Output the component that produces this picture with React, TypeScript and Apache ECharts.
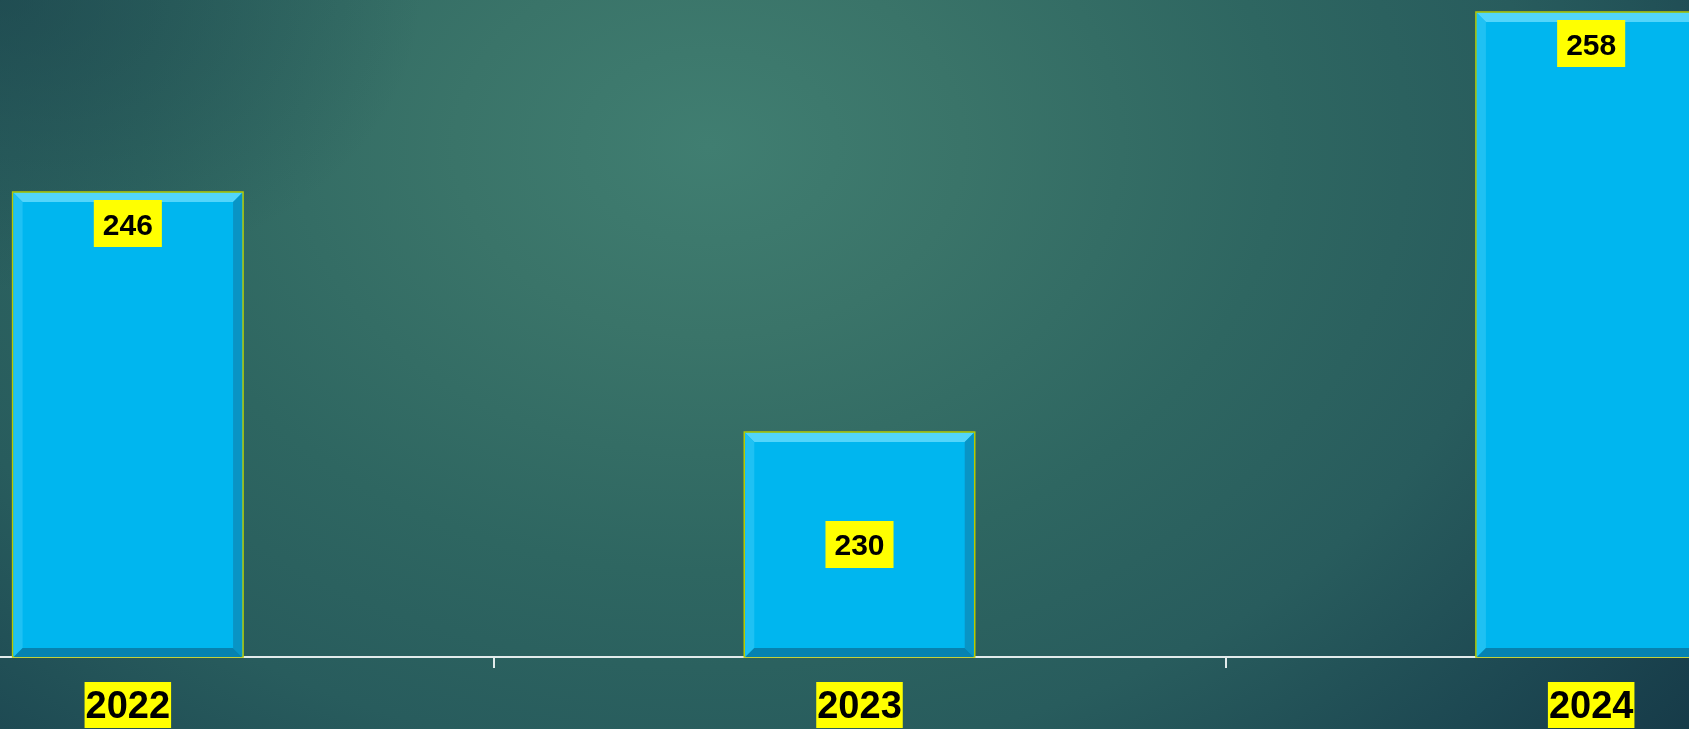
import React, { useEffect, useRef } from "react";
import * as echarts from "echarts";

const YEARS = ["2022", "2023", "2024"];
const VALUES = [246, 230, 258];
const LABEL_PLACEMENT = ["top", "middle", "top"];
const Y_MIN = 215;
const Y_MAX = 258;

export default function App() {
  const ref = useRef<HTMLDivElement>(null);
  useEffect(() => {
    const chart = echarts.init(ref.current!, null, { renderer: "svg" });
    const renderItem = (params: any, api: any) => {
      const idx = api.value(0);
      const v = api.value(1);
      const top = api.coord([idx, v]);
      const base = api.coord([idx, Y_MIN]);
      const bw = api.size([1, 0])[0] * 0.315;
      const x0 = top[0] - bw / 2;
      const x1 = top[0] + bw / 2;
      const y0 = top[1];
      const y1 = base[1];
      const b = 9;
      const place = LABEL_PLACEMENT[params.dataIndex];
      const ly = place === "top" ? y0 + 8 : (y0 + y1) / 2;
      const ix0 = x0 + 1, ix1 = x1 - 1, iy0 = y0 + 1, iy1 = y1;
      return {
        type: "group",
        children: [
          {
            type: "rect",
            shape: { x: x0, y: y0, width: bw, height: y1 - y0 },
            style: { fill: "#00b6ef", stroke: "#b9c900", lineWidth: 1.5 },
          },
          {
            type: "polygon",
            shape: { points: [[ix0, iy0], [ix1, iy0], [ix1 - b, iy0 + b], [ix0 + b, iy0 + b]] },
            style: { fill: "#52d5fb" },
          },
          {
            type: "polygon",
            shape: { points: [[ix0, iy0], [ix0 + b, iy0 + b], [ix0 + b, iy1 - b], [ix0, iy1]] },
            style: { fill: "#1fc1f3" },
          },
          {
            type: "polygon",
            shape: { points: [[ix1, iy0], [ix1, iy1], [ix1 - b, iy1 - b], [ix1 - b, iy0 + b]] },
            style: { fill: "#0994c5" },
          },
          {
            type: "polygon",
            shape: { points: [[ix0, iy1], [ix1, iy1], [ix1 - b, iy1 - b], [ix0 + b, iy1 - b]] },
            style: { fill: "#0682b1" },
          },
          {
            type: "text",
            x: top[0],
            y: ly,
            style: {
              text: String(v),
              fill: "#000000",
              fontSize: 30,
              fontWeight: "bold",
              fontFamily: "Liberation Sans, Arial, sans-serif",
              align: "center",
              verticalAlign: place === "top" ? "top" : "middle",
              lineHeight: 30,
              backgroundColor: "#ffff00",
              padding: [9, 9, 8, 9],
            },
          },
        ],
      };
    };

    chart.setOption({
      animation: false,
      backgroundColor: "transparent",
      grid: { left: 0, right: 0, top: 12, bottom: 72, containLabel: false },
      xAxis: {
        type: "category",
        data: YEARS,
        boundaryGap: true,
        axisLine: { show: true, lineStyle: { color: "#e2ebeb", width: 2 } },
        axisTick: { show: true, length: 11, lineStyle: { color: "#e2ebeb", width: 2 } },
        axisLabel: {
          margin: 25,
          color: "#000000",
          fontSize: 38,
          fontWeight: "bold",
          fontFamily: "Liberation Sans, Arial, sans-serif",
          backgroundColor: "#ffff00",
          padding: [4, 1, 4, 1],
          lineHeight: 38,
        },
        splitLine: { show: false },
      },
      yAxis: {
        type: "value",
        min: Y_MIN,
        max: Y_MAX,
        show: false,
        splitLine: { show: false },
      },
      series: [
        {
          type: "custom",
          renderItem,
          encode: { x: 0, y: 1 },
          data: VALUES.map((v, i) => [i, v]),
        },
      ],
    });
    return () => chart.dispose();
  }, []);

  return (
    <div
      style={{
        position: "fixed",
        left: 0,
        top: 0,
        width: 1689,
        height: 729,
        overflow: "hidden",
        background:
          "radial-gradient(ellipse 25% 40% at 0% 0%, rgba(24,62,72,0.55) 0%, rgba(24,62,72,0) 100%), " +
          "radial-gradient(ellipse 75% 130% at 42% 20%, #407e71 0%, #3a7469 20%, #2e6661 45%, #285c5d 65%, #1d4852 85%, #163a48 100%)",
      }}
    >
      <div
        ref={ref}
        style={{ position: "absolute", left: -238, top: 0, width: 2195, height: 729 }}
      />
    </div>
  );
}
